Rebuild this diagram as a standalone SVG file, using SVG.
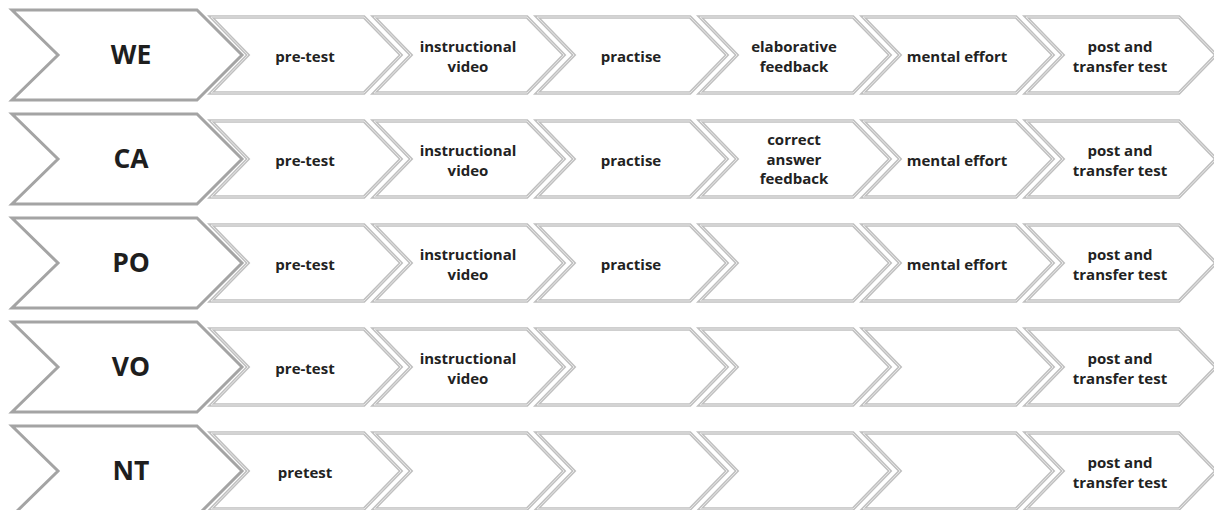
<svg xmlns="http://www.w3.org/2000/svg" xmlns:xlink="http://www.w3.org/1999/xlink" width="1214" height="510" viewBox="0 0 1214 510">
  <style>
    .big { fill: #ffffff; stroke: #a4a4a4; stroke-width: 3; stroke-linejoin: miter; }
    .step { fill: #ffffff; stroke: #c0c0c0; stroke-width: 3.4; stroke-linejoin: miter; }
    .stepline { fill: none; stroke: #ececec; stroke-width: 0.9; stroke-linejoin: miter; }
    .grp { font-family: "Open Sans", "Liberation Sans", sans-serif; font-weight: 700; font-size: 26.5px; fill: #1e1e1e; text-anchor: middle; }
    .lbl { font-family: "Open Sans", "Liberation Sans", sans-serif; font-weight: 700; font-size: 15px; fill: #222222; text-anchor: middle; }
  </style>
  <defs>
    <!-- group chevron, centred vertically on y=0 -->
    <polygon id="chev-big" points="12,-45 197,-45 242,0 197,45 12,45 58,0"/>
    <!-- step chevron, origin at its top-left corner x, vertical centre y=0 -->
    <polygon id="chev-step" points="0,-38 153,-38 190,0 153,38 0,38 37,0"/>
  </defs>

  <rect width="1214" height="510" fill="#ffffff"/>

  <!-- Row 1: WE -->
  <g id="row-we" transform="translate(0,55)">
    <g id="we-group"><use href="#chev-big" class="big"/><text class="grp" x="131" y="8.5">WE</text></g>
    <g id="we-1" transform="translate(211,0)"><use href="#chev-step" class="step"/><use href="#chev-step" class="stepline"/><text class="lbl" x="94" y="6.5">pre-test</text></g>
    <g id="we-2" transform="translate(374,0)"><use href="#chev-step" class="step"/><use href="#chev-step" class="stepline"/><text class="lbl" x="94" y="-3.5">instructional</text><text class="lbl" x="94" y="16.5">video</text></g>
    <g id="we-3" transform="translate(537,0)"><use href="#chev-step" class="step"/><use href="#chev-step" class="stepline"/><text class="lbl" x="94" y="6.5">practise</text></g>
    <g id="we-4" transform="translate(700,0)"><use href="#chev-step" class="step"/><use href="#chev-step" class="stepline"/><text class="lbl" x="94" y="-3.5">elaborative</text><text class="lbl" x="94" y="16.5">feedback</text></g>
    <g id="we-5" transform="translate(863,0)"><use href="#chev-step" class="step"/><use href="#chev-step" class="stepline"/><text class="lbl" x="94" y="6.5">mental effort</text></g>
    <g id="we-6" transform="translate(1026,0)"><use href="#chev-step" class="step"/><use href="#chev-step" class="stepline"/><text class="lbl" x="94" y="-3.5">post and</text><text class="lbl" x="94" y="16.5">transfer test</text></g>
  </g>

  <!-- Row 2: CA -->
  <g id="row-ca" transform="translate(0,159)">
    <g id="ca-group"><use href="#chev-big" class="big"/><text class="grp" x="131" y="8.5">CA</text></g>
    <g id="ca-1" transform="translate(211,0)"><use href="#chev-step" class="step"/><use href="#chev-step" class="stepline"/><text class="lbl" x="94" y="6.5">pre-test</text></g>
    <g id="ca-2" transform="translate(374,0)"><use href="#chev-step" class="step"/><use href="#chev-step" class="stepline"/><text class="lbl" x="94" y="-3.5">instructional</text><text class="lbl" x="94" y="16.5">video</text></g>
    <g id="ca-3" transform="translate(537,0)"><use href="#chev-step" class="step"/><use href="#chev-step" class="stepline"/><text class="lbl" x="94" y="6.5">practise</text></g>
    <g id="ca-4" transform="translate(700,0)"><use href="#chev-step" class="step"/><use href="#chev-step" class="stepline"/><text class="lbl" x="94" y="-14">correct</text><text class="lbl" x="94" y="5.5">answer</text><text class="lbl" x="94" y="25">feedback</text></g>
    <g id="ca-5" transform="translate(863,0)"><use href="#chev-step" class="step"/><use href="#chev-step" class="stepline"/><text class="lbl" x="94" y="6.5">mental effort</text></g>
    <g id="ca-6" transform="translate(1026,0)"><use href="#chev-step" class="step"/><use href="#chev-step" class="stepline"/><text class="lbl" x="94" y="-3.5">post and</text><text class="lbl" x="94" y="16.5">transfer test</text></g>
  </g>

  <!-- Row 3: PO -->
  <g id="row-po" transform="translate(0,263)">
    <g id="po-group"><use href="#chev-big" class="big"/><text class="grp" x="131" y="8.5">PO</text></g>
    <g id="po-1" transform="translate(211,0)"><use href="#chev-step" class="step"/><use href="#chev-step" class="stepline"/><text class="lbl" x="94" y="6.5">pre-test</text></g>
    <g id="po-2" transform="translate(374,0)"><use href="#chev-step" class="step"/><use href="#chev-step" class="stepline"/><text class="lbl" x="94" y="-3.5">instructional</text><text class="lbl" x="94" y="16.5">video</text></g>
    <g id="po-3" transform="translate(537,0)"><use href="#chev-step" class="step"/><use href="#chev-step" class="stepline"/><text class="lbl" x="94" y="6.5">practise</text></g>
    <g id="po-4" transform="translate(700,0)"><use href="#chev-step" class="step"/><use href="#chev-step" class="stepline"/></g>
    <g id="po-5" transform="translate(863,0)"><use href="#chev-step" class="step"/><use href="#chev-step" class="stepline"/><text class="lbl" x="94" y="6.5">mental effort</text></g>
    <g id="po-6" transform="translate(1026,0)"><use href="#chev-step" class="step"/><use href="#chev-step" class="stepline"/><text class="lbl" x="94" y="-3.5">post and</text><text class="lbl" x="94" y="16.5">transfer test</text></g>
  </g>

  <!-- Row 4: VO -->
  <g id="row-vo" transform="translate(0,367)">
    <g id="vo-group"><use href="#chev-big" class="big"/><text class="grp" x="131" y="8.5">VO</text></g>
    <g id="vo-1" transform="translate(211,0)"><use href="#chev-step" class="step"/><use href="#chev-step" class="stepline"/><text class="lbl" x="94" y="6.5">pre-test</text></g>
    <g id="vo-2" transform="translate(374,0)"><use href="#chev-step" class="step"/><use href="#chev-step" class="stepline"/><text class="lbl" x="94" y="-3.5">instructional</text><text class="lbl" x="94" y="16.5">video</text></g>
    <g id="vo-3" transform="translate(537,0)"><use href="#chev-step" class="step"/><use href="#chev-step" class="stepline"/></g>
    <g id="vo-4" transform="translate(700,0)"><use href="#chev-step" class="step"/><use href="#chev-step" class="stepline"/></g>
    <g id="vo-5" transform="translate(863,0)"><use href="#chev-step" class="step"/><use href="#chev-step" class="stepline"/></g>
    <g id="vo-6" transform="translate(1026,0)"><use href="#chev-step" class="step"/><use href="#chev-step" class="stepline"/><text class="lbl" x="94" y="-3.5">post and</text><text class="lbl" x="94" y="16.5">transfer test</text></g>
  </g>

  <!-- Row 5: NT -->
  <g id="row-nt" transform="translate(0,471)">
    <g id="nt-group"><use href="#chev-big" class="big"/><text class="grp" x="131" y="8.5">NT</text></g>
    <g id="nt-1" transform="translate(211,0)"><use href="#chev-step" class="step"/><use href="#chev-step" class="stepline"/><text class="lbl" x="94" y="6.5">pretest</text></g>
    <g id="nt-2" transform="translate(374,0)"><use href="#chev-step" class="step"/><use href="#chev-step" class="stepline"/></g>
    <g id="nt-3" transform="translate(537,0)"><use href="#chev-step" class="step"/><use href="#chev-step" class="stepline"/></g>
    <g id="nt-4" transform="translate(700,0)"><use href="#chev-step" class="step"/><use href="#chev-step" class="stepline"/></g>
    <g id="nt-5" transform="translate(863,0)"><use href="#chev-step" class="step"/><use href="#chev-step" class="stepline"/></g>
    <g id="nt-6" transform="translate(1026,0)"><use href="#chev-step" class="step"/><use href="#chev-step" class="stepline"/><text class="lbl" x="94" y="-3.5">post and</text><text class="lbl" x="94" y="16.5">transfer test</text></g>
  </g>

  <!-- the chevrons abut each other directly; there are no separate connectors -->
  <g id="connectors"/>
</svg>
